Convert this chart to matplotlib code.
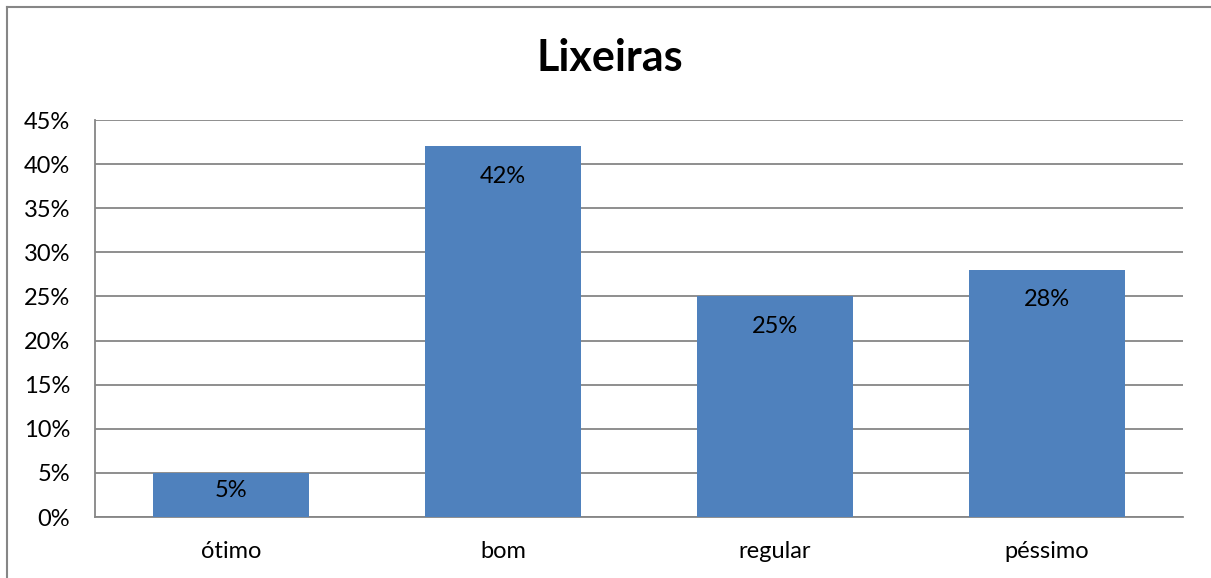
import matplotlib.pyplot as plt
from matplotlib.ticker import MultipleLocator, FuncFormatter

categorias = ['ótimo', 'bom', 'regular', 'péssimo']
valores = [5, 42, 25, 28]

plt.rcParams['font.family'] = ['Lato', 'DejaVu Sans']

fig = plt.figure(figsize=(12.11, 5.78), dpi=100)
ax = fig.add_axes([95 / 1211, 61 / 578, 1088 / 1211, 397 / 578])

x = range(len(categorias))
barras = ax.bar(x, valores, width=0.57, color='#4F81BD', zorder=3)

for b, v in zip(barras, valores):
    # rótulo dentro da barra, perto do topo (barras curtas: mais para o meio)
    desloc = min(3.4, v * 0.4)
    ax.text(b.get_x() + b.get_width() / 2, v - desloc, f'{v}%',
            ha='center', va='center', fontsize=17, color='black', zorder=4)

ax.set_xlim(-0.5, len(categorias) - 0.5)
ax.set_ylim(0, 45)
ax.yaxis.set_major_locator(MultipleLocator(5))
ax.yaxis.set_major_formatter(FuncFormatter(lambda v, p: f'{v:.0f}%'))
ax.set_xticks(list(x))
ax.set_xticklabels(categorias)
ax.tick_params(axis='y', length=0, labelsize=17, pad=18)
ax.tick_params(axis='x', length=0, labelsize=17, pad=17)

ax.grid(axis='y', color='#868686', linewidth=1.3, zorder=0)
for s in ['top', 'right']:
    ax.spines[s].set_visible(False)
ax.spines['left'].set_color('#868686')
ax.spines['bottom'].set_color('#868686')
ax.spines['left'].set_linewidth(1.3)
ax.spines['bottom'].set_linewidth(1.3)

fig.text(610 / 1211, 1 - 58 / 578, 'Lixeiras', ha='center', va='center',
         fontsize=31, fontweight='bold')

# moldura do gráfico (só aparecem as bordas superior e esquerda)
fig.add_artist(plt.Line2D([6.5 / 1211, 6.5 / 1211], [0, 1 - 7 / 578],
                          transform=fig.transFigure, color='#868686', lw=1.5))
fig.add_artist(plt.Line2D([6.5 / 1211, 1], [1 - 7 / 578, 1 - 7 / 578],
                          transform=fig.transFigure, color='#868686', lw=1.5))

fig.savefig('out.png', dpi=100)
